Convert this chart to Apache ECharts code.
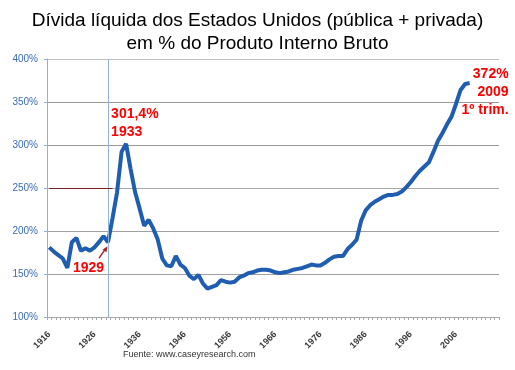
<!DOCTYPE html>
<html><head><meta charset="utf-8">
<script src="https://cdn.jsdelivr.net/npm/echarts@6/dist/echarts.min.js"></script>
<style>html,body{margin:0;padding:0;background:#fff}#c{width:515px;height:370px}</style>
</head><body><div id="c"></div>
<script>
// Categories: years on the axis (axis runs 1916..2015, data to 2009)
const firstYear = 1916, lastAxisYear = 2015;
const years = [];
for (let y = firstYear; y <= lastAxisYear; y++) years.push(String(y));

// Net US debt (public + private) in % of GDP, 1916..2009
const debtPct = [
  181,176,172,168,157,187,192,177,180,177, // 1916-1925
  181,187,194,187,215,245,292,301.4,272,245, // 1926-1935
  226,206,213,203,190,168,160,159,171,161, // 1936-1945
  157,148,144,149,139,133,135,137,143,141, // 1946-1955
  140,141,146,148,151,152,154,155,155,154, // 1956-1965
  152,151,152,153,155,156,157,159,161,160, // 1966-1975
  160,163,167,170,171,171,179,184,190,212, // 1976-1985
  224,230,234,237,240,242,242,243,246,251, // 1986-1995
  257,264,270,275,280,292,305,314,324,333, // 1996-2005
  348,364,371,372                          // 2006-2009
];

const yMin = 100, yMax = 400, yStep = 50;
const titleText = 'Dívida líquida dos Estados Unidos (pública + privada)\nem % do Produto Interno Bruto';
const sourceText = 'Fuente: www.caseyresearch.com';
const peakNote = {year: '1933', value: 301.4, text: '301,4%\n1933'};
const lastNote = {year: '2009', value: 372, text: '372%\n2009\n1º trim.'};
const crashNote = {year: '1929', value: 187, text: '1929'};

const chart = echarts.init(document.getElementById('c'), null, {renderer: 'canvas'});
const FONT = '"Liberation Sans", Arial, sans-serif';

chart.setOption({
  animation: false,
  backgroundColor: '#fff',
  title: {
    text: titleText, left: 'center', top: 4,
    textStyle: {fontFamily: FONT, fontSize: 19, fontWeight: 'normal', color: '#000', lineHeight: 23}
  },
  grid: {left: 47, right: 16, top: 59, bottom: 53},
  xAxis: {
    type: 'category', data: years, boundaryGap: true,
    axisLine: {lineStyle: {color: '#a8a8a8', width: 1}},
    axisTick: {show: true, interval: 0, length: 3, lineStyle: {color: '#a8a8a8'}},
    axisLabel: {interval: 9, rotate: 45, fontSize: 9, fontWeight: 'bold', color: '#3a3a3a', fontFamily: FONT, margin: 16},
    splitLine: {show: false}
  },
  yAxis: {
    type: 'value', min: yMin, max: yMax, interval: yStep,
    axisLine: {show: true, lineStyle: {color: '#86b4dc', width: 1}},
    axisTick: {show: true, length: 3, lineStyle: {color: '#86b4dc'}},
    axisLabel: {formatter: '{value}%', fontSize: 10, color: '#3a6db3', fontFamily: FONT, margin: 9},
    splitLine: {show: true, lineStyle: {color: ['#b0b0b0','#a0a0a0','#a0a0a0','#a8a8a8','#9a9a9a','#9a9a9a','#c0c0c0'], width: 1}}
  },
  series: [{
    type: 'line', data: debtPct, symbol: 'none', smooth: false,
    lineStyle: {color: '#1f5db0', width: 4},
    markLine: {
      silent: true, symbol: 'none', label: {show: false},
      data: [
        {xAxis: '1929', lineStyle: {color: '#8db6da', width: 1, type: 'solid'}},
        [{coord: ['1916', 250], lineStyle: {color: '#7a1f1f', width: 1, type: 'solid'}}, {coord: ['1930', 250]}]
      ]
    }
  }]
});

function px(year, val) { return chart.convertToPixel({seriesIndex: 0}, [year, val]); }
const pk = px(peakNote.year, peakNote.value);
const ls = px(lastNote.year, lastNote.value);
const cr = px(crashNote.year, crashNote.value);
const red = '#ff0000';
const noteStyle = {fontFamily: FONT, fontSize: 14, fontWeight: 'bold', fill: red, lineHeight: 18};

chart.setOption({
  graphic: [
    {type: 'text', left: pk[0] - 15, top: pk[1] - 39,
     style: Object.assign({text: peakNote.text}, noteStyle)},
    {type: 'text', x: ls[0] + 39, y: ls[1] - 18, style: Object.assign({text: lastNote.text, textAlign: 'right'}, noteStyle)},
    {type: 'text', x: cr[0] - 4, y: cr[1] + 17, style: Object.assign({text: crashNote.text, textAlign: 'right'}, noteStyle)},
    {type: 'line', shape: {x1: cr[0] - 9, y1: cr[1] + 16, x2: cr[0] - 2, y2: cr[1] + 6}, style: {stroke: '#a02828', lineWidth: 1.5}},
    {type: 'polygon', shape: {points: [[cr[0] - 0.5, cr[1] + 4], [cr[0] - 5.5, cr[1] + 7.5], [cr[0] - 1.5, cr[1] + 10]]}, style: {fill: '#a02828'}},
    {type: 'text', x: 123, y: 350, style: {text: sourceText, fontFamily: FONT, fontSize: 9, fill: '#333'}}
  ]
});
</script>
</body></html>
